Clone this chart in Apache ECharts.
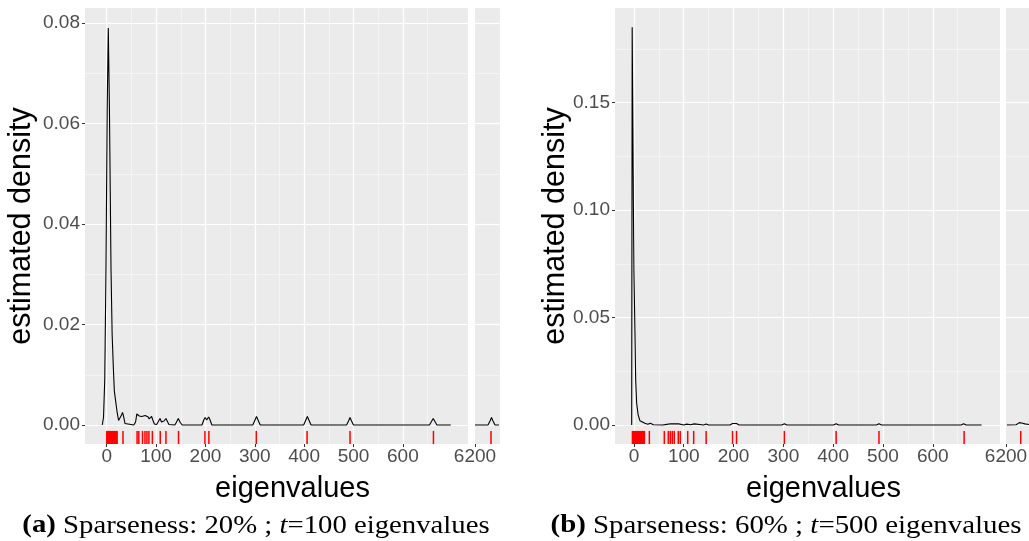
<!DOCTYPE html>
<html><head><meta charset="utf-8">
<script src="https://cdn.jsdelivr.net/npm/echarts@6/dist/echarts.min.js"></script>
<style>html,body{margin:0;padding:0;background:#fff}#c{width:1029px;height:541px}</style>
</head><body><div id="c"></div>
<script>
// ---------- data ----------
const xTicksMain = [0, 100, 200, 300, 400, 500, 600];
const xTicksRight = [6200];
const yTicksA = [0, 0.02, 0.04, 0.06, 0.08];
const yTicksB = [0, 0.05, 0.10, 0.15];

// panel (a) density, main range
const densA_x = [-9, -6.5, -4, -1.5, 1, 3.2, 5.5, 8.7, 11, 13.4, 15.4, 18, 21.5, 24, 27, 30, 32, 34, 37, 40, 55, 58.5, 61, 63, 66, 68, 71, 74, 78, 81, 84, 86, 89, 91, 93, 96.5, 101, 104, 108, 111, 113, 116, 120, 123, 126, 138, 141, 145, 149, 153, 193, 197, 199.5, 202.5, 206.5, 209, 213, 296, 300, 303.5, 307, 311, 399, 403, 406.5, 410, 414, 486, 490, 493, 496, 500, 654, 658, 661.5, 665, 669, 697];
const densA_y = [0, 0.0015, 0.009, 0.031, 0.063, 0.079, 0.063, 0.031, 0.018, 0.0115, 0.0068, 0.0048, 0.0023, 0.0009, 0.0009, 0.002, 0.0025, 0.0018, 0.0003, 0, 0, 0.0006, 0.0022, 0.0025, 0.0018, 0.0015, 0.0017, 0.0019, 0.0019, 0.002, 0.0016, 0.0012, 0.0015, 0.0017, 0.0011, 0.0002, 0.0001, 0.0006, 0.0013, 0.0006, 0.0003, 0.0008, 0.0013, 0.0007, 0.0001, 0, 0.0005, 0.0013, 0.0005, 0, 0, 0.0011, 0.0015, 0.001, 0.0016, 0.0011, 0, 0, 0.0009, 0.0017, 0.0009, 0, 0, 0.0009, 0.0017, 0.0009, 0, 0, 0.0008, 0.0015, 0.0008, 0, 0, 0.0007, 0.0013, 0.0007, 0, 0];
// panel (a) density, right range
const densAR_x = [6200, 6226, 6230, 6233, 6236, 6240, 6248];
const densAR_y = [0, 0, 0.0008, 0.0015, 0.0008, 0, 0];

// panel (b) density, main range
const densB_x = [-4.5, -3.5, -1, 0, 2, 3.5, 5.5, 8.5, 12, 15.5, 22, 28, 30.5, 33, 36, 39, 58, 62, 66, 70, 74, 78, 82, 86, 90, 94, 100, 106, 110, 114, 118, 121, 125, 140, 145, 150, 193, 198, 202, 206, 211, 297, 302, 307, 401, 406, 411, 487, 492, 497, 657, 662, 667, 698];
const densB_y = [0, 0.185, 0.1, 0.072, 0.044, 0.021, 0.0101, 0.0047, 0.002, 0.0013, 0.0008, 0.0003, 0.0004, 0.0008, 0.0003, 0.0001, 0, 0.0006, 0.0003, 0.0004, 0.0006, 0.0003, 0.0005, 0.0002, 0.0005, 0.0001, 0, 0.0004, 0.0005, 0.0001, 0.0004, 0.0005, 0, 0, 0.0005, 0, 0, 0.0007, 0.0003, 0.0007, 0, 0, 0.0006, 0, 0, 0.0006, 0, 0, 0.0006, 0, 0, 0.0006, 0, 0];
// panel (b) density, right range
const densBR_x = [6202, 6222, 6226, 6229, 6234, 6241, 6250];
const densBR_y = [0, 0.0001, 0.0007, 0.0011, 0.0009, 0.0005, 0.0002];

// rug (observed eigenvalues)
const rugA = [0, 1, 2, 3, 4, 5, 6, 7, 8, 9, 10, 11, 12, 13, 14, 15, 16, 17, 18, 19, 20, 21, 33, 61.5, 65, 72.5, 77.5, 81.5, 85.5, 92.5, 108.5, 120, 145.5, 199, 207, 303, 406, 493, 662];
const rugAR = [6232];
const rugB = [-3, -2, -1, 0, 1, 2, 3, 4, 5, 6, 7, 8, 9, 10, 11, 12, 13, 14, 15, 16, 17, 18, 19, 20, 21, 31, 61, 69, 73, 77, 81, 89, 93, 108, 120, 145, 198, 206, 302, 406, 492, 663];
const rugBR = [6232];

// ---------- chart ----------
const FONT = 'Liberation Sans';
const LABEL_COL = '#4D4D4D';
const TOP = 8, H = 436;

function zip(xs, ys) { return xs.map((x, i) => [x, ys[i]]); }

function rugItem(params, api) {
  const cs = params.coordSys;
  const x = api.coord([api.value(0), 0])[0];
  const yb = cs.y + cs.height;
  return {
    type: 'line',
    shape: { x1: x, y1: yb, x2: x, y2: yb - cs.height * 0.03 },
    style: { stroke: '#FF0000', lineWidth: 1.5 }
  };
}

const majorSplit = { show: true, lineStyle: { color: '#FFFFFF', width: 1.2 } };
const minorSplit = { show: true, lineStyle: { color: '#F6F6F6', width: 0.8 } };
const tickStyle = { color: '#333333', width: 1 };

function xAxisMain(gridIndex, min, max) {
  return {
    type: 'value', gridIndex, min, max, minInterval: 100, maxInterval: 100,
    axisLine: { show: false, onZero: false },
    axisTick: { show: true, length: 3, lineStyle: tickStyle, customValues: xTicksMain },
    axisLabel: { show: true, customValues: xTicksMain, color: LABEL_COL, fontFamily: FONT, fontSize: 19, margin: 3,
      formatter: v => String(v) },
    splitLine: majorSplit,
    minorTick: { show: false, splitNumber: 2 },
    minorSplitLine: minorSplit
  };
}
function xAxisRight(gridIndex) {
  return {
    type: 'value', gridIndex, min: 6200, max: 6250, minInterval: 50, maxInterval: 50,
    axisLine: { show: false, onZero: false },
    axisTick: { show: true, length: 3, lineStyle: tickStyle, customValues: xTicksRight },
    axisLabel: { show: true, customValues: xTicksRight, color: LABEL_COL, fontFamily: FONT, fontSize: 19, margin: 3,
      formatter: v => String(v) },
    splitLine: { show: false }
  };
}
function yAxis(gridIndex, min, max, step, ticks, showLabels) {
  return {
    type: 'value', gridIndex, min, max, minInterval: step, maxInterval: step,
    axisLine: { show: false, onZero: false },
    axisTick: { show: showLabels, length: 3, lineStyle: tickStyle, customValues: ticks },
    axisLabel: { show: showLabels, customValues: ticks, color: LABEL_COL, fontFamily: FONT, fontSize: 19, margin: 5,
      formatter: v => v.toFixed(2) },
    splitLine: majorSplit,
    minorTick: { show: false, splitNumber: 2 },
    minorSplitLine: minorSplit
  };
}

const gridBase = { show: true, backgroundColor: '#EBEBEB', borderWidth: 0, top: TOP, height: H, containLabel: false };

const lineStyle = { color: '#000000', width: 1.1 };
function lineSeries(xi, yi, data) {
  return { type: 'line', xAxisIndex: xi, yAxisIndex: yi, data, showSymbol: false, symbol: 'none',
    lineStyle, itemStyle: { color: '#000' }, silent: true, clip: true, z: 3 };
}
function rugSeries(xi, yi, vals) {
  return { type: 'custom', xAxisIndex: xi, yAxisIndex: yi, renderItem: rugItem,
    data: vals.map(v => [v, 0]), encode: { x: 0, y: 1 }, silent: true, clip: false, z: 2 };
}

const titleFont = { fontFamily: FONT, fontSize: 29, fill: '#000000' };
const vTitleFont = { fontFamily: FONT, fontSize: 30.5, fill: '#000000' };
const capRich = {
  b: { fontFamily: 'Liberation Serif', fontSize: 25, fontWeight: 'bold', fill: '#000' },
  i: { fontFamily: 'Liberation Serif', fontSize: 25, fontStyle: 'italic', fill: '#000' }
};

const chart = echarts.init(document.getElementById('c'), null, { renderer: 'canvas' });
chart.setOption({
  animation: false,
  backgroundColor: '#FFFFFF',
  grid: [
    Object.assign({ left: 85, width: 383 }, gridBase),
    Object.assign({ left: 475, width: 25 }, gridBase),
    Object.assign({ left: 615, width: 385 }, gridBase),
    Object.assign({ left: 1006, width: 26 }, gridBase)
  ],
  xAxis: [
    xAxisMain(0, -44, 732),
    xAxisRight(1),
    xAxisMain(2, -38, 735),
    xAxisRight(3)
  ],
  yAxis: [
    yAxis(0, -0.00378, 0.083, 0.02, yTicksA, true),
    yAxis(1, -0.00378, 0.083, 0.02, yTicksA, false),
    yAxis(2, -0.00885, 0.194, 0.05, yTicksB, true),
    yAxis(3, -0.00885, 0.194, 0.05, yTicksB, false)
  ],
  series: [
    lineSeries(0, 0, zip(densA_x, densA_y)),
    lineSeries(1, 1, zip(densAR_x, densAR_y)),
    lineSeries(2, 2, zip(densB_x, densB_y)),
    lineSeries(3, 3, zip(densBR_x, densBR_y)),
    rugSeries(0, 0, rugA),
    rugSeries(1, 1, rugAR),
    rugSeries(2, 2, rugB),
    rugSeries(3, 3, rugBR)
  ],
  graphic: [
    { type: 'text', x: 292.5, y: 489, style: Object.assign({ text: 'eigenvalues', align: 'center', verticalAlign: 'middle' }, titleFont) },
    { type: 'text', x: 823.5, y: 489, style: Object.assign({ text: 'eigenvalues', align: 'center', verticalAlign: 'middle' }, titleFont) },
    { type: 'text', x: 22, y: 226, rotation: Math.PI / 2, style: Object.assign({ text: 'estimated density', align: 'center', verticalAlign: 'middle' }, vTitleFont) },
    { type: 'text', x: 556, y: 226, rotation: Math.PI / 2, style: Object.assign({ text: 'estimated density', align: 'center', verticalAlign: 'middle' }, vTitleFont) },
    { type: 'text', x: 256, y: 526, scaleX: 1.15, style: { text: '{b|(a)} Sparseness: 20% ; {i|t}=100 eigenvalues', rich: capRich,
      fontFamily: 'Liberation Serif', fontSize: 25, fill: '#000', align: 'center', verticalAlign: 'middle' } },
    { type: 'text', x: 786, y: 526, scaleX: 1.155, style: { text: '{b|(b)} Sparseness: 60% ; {i|t}=500 eigenvalues', rich: capRich,
      fontFamily: 'Liberation Serif', fontSize: 25, fill: '#000', align: 'center', verticalAlign: 'middle' } }
  ]
});
</script></body></html>
